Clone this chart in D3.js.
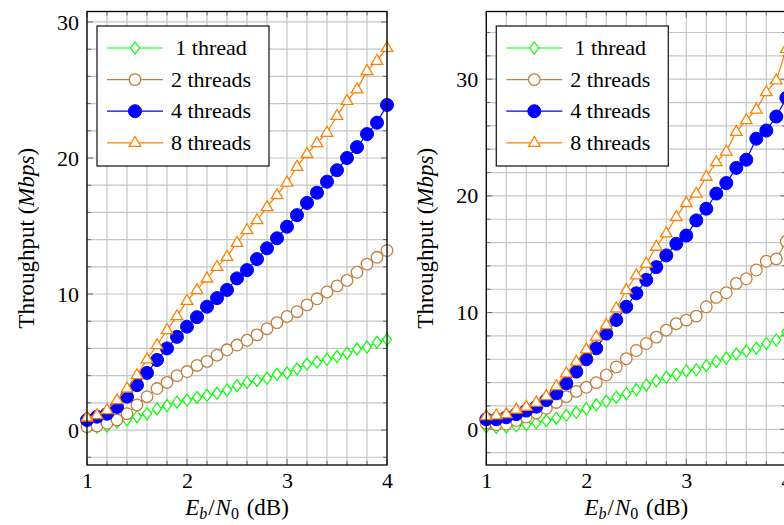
<!DOCTYPE html>
<html>
<head>
<meta charset="utf-8">
<script src="https://cdn.jsdelivr.net/npm/d3@7"></script>
<style>
  body { margin: 0; background: #fff; }
  svg text { font-family: "Liberation Serif", "DejaVu Serif", serif; fill: #000; }
</style>
</head>
<body>
<div id="chart"></div>
<script>
// Eb/N0 (dB) sample points
const ebn0 = [1.0, 1.1, 1.2, 1.3, 1.4, 1.5, 1.6, 1.7, 1.8, 1.9, 2.0,
              2.1, 2.2, 2.3, 2.4, 2.5, 2.6, 2.7, 2.8, 2.9, 3.0,
              3.1, 3.2, 3.3, 3.4, 3.5, 3.6, 3.7, 3.8, 3.9, 4.0];

const seriesNames = ["1 thread", "2 threads", "4 threads", "8 threads"];

// left plot, throughput in Mbps
const leftOne   = [0.2, 0.22, 0.3, 0.6, 0.75, 0.98, 1.2, 1.55, 1.8, 2.05, 2.2,
                   2.4, 2.55, 2.7, 2.95, 3.25, 3.5, 3.65, 3.8, 4.1, 4.2,
                   4.5, 4.85, 5.0, 5.2, 5.4, 5.65, 5.95, 6.1, 6.45, 6.65];
const leftTwo   = [0.25, 0.3, 0.5, 0.75, 1.2, 1.85, 2.45, 3.05, 3.5, 4.0, 4.3,
                   4.75, 5.05, 5.5, 5.9, 6.25, 6.6, 7.0, 7.45, 7.9, 8.35,
                   8.7, 9.2, 9.65, 10.15, 10.6, 11.0, 11.6, 12.2, 12.7, 13.2];
const leftFour  = [0.74, 0.98, 1.2, 1.7, 2.45, 3.3, 4.2, 5.15, 6.0, 6.85, 7.6,
                   8.3, 9.07, 9.7, 10.3, 11.15, 11.76, 12.57, 13.36, 14.1, 14.95,
                   15.8, 16.7, 17.45, 18.26, 19.1, 20.0, 20.8, 21.76, 22.6, 23.9];
const leftEight = [0.93, 1.1, 1.47, 2.2, 3.06, 4.04, 5.2, 6.25, 7.35, 8.38, 9.5,
                   10.3, 11.15, 12.0, 12.74, 13.77, 14.7, 15.44, 16.4, 17.28, 18.2,
                   19.36, 20.3, 21.1, 21.86, 23.1, 24.2, 25.05, 26.4, 27.15, 28.1];

// right plot
const rightOne   = [0.2, 0.15, 0.2, 0.3, 0.4, 0.55, 0.75, 0.95, 1.2, 1.45, 1.75,
                    2.1, 2.4, 2.75, 3.05, 3.4, 3.8, 4.15, 4.45, 4.7, 5.0,
                    5.1, 5.45, 5.8, 6.1, 6.45, 6.7, 6.95, 7.35, 7.65, 8.35];
const rightTwo   = [0.5, 0.4, 0.45, 0.75, 1.05, 1.4, 1.8, 2.3, 2.8, 3.25, 3.6,
                    4.0, 4.65, 5.35, 6.05, 6.75, 7.35, 7.9, 8.5, 9.05, 9.35,
                    9.7, 10.5, 11.3, 11.7, 12.5, 12.9, 13.65, 14.4, 14.6, 16.1];
const rightFour  = [0.86, 0.86, 1.03, 1.3, 1.6, 1.94, 2.5, 3.08, 3.94, 4.94, 6.0,
                    6.94, 8.2, 9.37, 10.5, 11.65, 12.8, 13.9, 14.9, 15.9, 16.6,
                    17.9, 18.9, 20.2, 21.1, 22.4, 23.1, 24.9, 25.6, 26.8, 28.4];
const rightEight = [1.14, 1.2, 1.3, 1.7, 1.94, 2.3, 2.85, 3.7, 4.8, 5.8, 6.85,
                    7.94, 8.94, 10.37, 11.94, 13.2, 14.2, 15.65, 16.8, 18.2, 19.4,
                    20.2, 21.65, 22.9, 23.8, 25.5, 26.5, 27.4, 28.9, 29.9, 32.6];

const xTicks = [1, 2, 3, 4];
const yTicks = [0, 10, 20, 30];

const colors = ["#00ff00", "#bf8040", "#0000ff", "#ff8000"];

const svg = d3.select("#chart").append("svg")
    .attr("width", 784)
    .attr("height", 525)
    .attr("font-family", "'Liberation Serif', 'DejaVu Serif', serif");

// marker shapes
function drawMarker(g, i) {
    if (i === 0) {
        g.append("path").attr("d", "M0,-6L4.5,0L0,6L-4.5,0Z")
            .attr("fill", "#fff").attr("stroke", colors[i]).attr("stroke-width", 1.2);
    } else if (i === 1) {
        g.append("circle").attr("r", 5.8)
            .attr("fill", "#fff").attr("stroke", colors[i]).attr("stroke-width", 1.3);
    } else if (i === 2) {
        g.append("circle").attr("r", 6.5)
            .attr("fill", colors[i]).attr("stroke", colors[i]).attr("stroke-width", 1);
    } else {
        g.append("path").attr("d", "M0,-6.3L5.8,3.6L-5.8,3.6Z")
            .attr("fill", "#fff").attr("stroke", colors[i]).attr("stroke-width", 1.3);
    }
}

function drawPanel(p) {
    const g = svg.append("g");

    const x = d3.scaleLinear().domain([1, 4]).range([p.left, p.left + 300]);
    const y = d3.scaleLinear().domain(p.yDomain).range([p.bottom, p.top]);

    g.append("rect")
        .attr("x", p.left).attr("y", p.top)
        .attr("width", 300).attr("height", p.bottom - p.top)
        .attr("fill", "#fff");

    // grid (minor every 0.2 / 2)
    const xMinor = x.ticks(15);
    const yMinor = d3.range(-2, p.yDomain[1], 2).filter(v => v > p.yDomain[0]);

    g.selectAll(".vgrid").data(xMinor).enter().append("line")
        .attr("x1", d => x(d)).attr("x2", d => x(d))
        .attr("y1", p.top).attr("y2", p.bottom)
        .attr("stroke", "#c6c6c6").attr("stroke-width", 1.2);

    g.selectAll(".hgrid").data(yMinor).enter().append("line")
        .attr("y1", d => y(d)).attr("y2", d => y(d))
        .attr("x1", p.left).attr("x2", p.left + 300)
        .attr("stroke", "#c6c6c6").attr("stroke-width", 1.2);

    // inner tick marks on all four sides
    const tickCol = "#6b6b6b";
    xMinor.forEach(d => {
        const len = xTicks.includes(Math.round(d * 10) / 10) ? 6 : 4;
        g.append("line").attr("x1", x(d)).attr("x2", x(d))
            .attr("y1", p.bottom).attr("y2", p.bottom - len)
            .attr("stroke", tickCol).attr("stroke-width", 1);
        g.append("line").attr("x1", x(d)).attr("x2", x(d))
            .attr("y1", p.top).attr("y2", p.top + len)
            .attr("stroke", tickCol).attr("stroke-width", 1);
    });
    yMinor.forEach(d => {
        const len = yTicks.includes(d) ? 6 : 4;
        g.append("line").attr("y1", y(d)).attr("y2", y(d))
            .attr("x1", p.left).attr("x2", p.left + len)
            .attr("stroke", tickCol).attr("stroke-width", 1);
        g.append("line").attr("y1", y(d)).attr("y2", y(d))
            .attr("x1", p.left + 300).attr("x2", p.left + 300 - len)
            .attr("stroke", tickCol).attr("stroke-width", 1);
    });

    // series
    const line = d3.line().x(d => x(d[0])).y(d => y(d[1]));
    p.series.forEach((vals, i) => {
        const pts = ebn0.map((e, k) => [e, vals[k]]);
        g.append("path")
            .datum(pts)
            .attr("d", line)
            .attr("fill", "none")
            .attr("stroke", colors[i])
            .attr("stroke-width", 1.2);
        pts.forEach(d => {
            const m = g.append("g").attr("transform", `translate(${x(d[0])},${y(d[1])})`);
            drawMarker(m, i);
        });
    });

    // frame
    g.append("rect")
        .attr("x", p.left).attr("y", p.top)
        .attr("width", 300).attr("height", p.bottom - p.top)
        .attr("fill", "none").attr("stroke", "#000").attr("stroke-width", 1.3);

    // tick labels
    const xAxis = g.append("g")
        .attr("transform", `translate(0,${p.bottom})`)
        .call(d3.axisBottom(x).tickValues(xTicks).tickFormat(d3.format("d"))
            .tickSize(0).tickPadding(7));
    xAxis.select(".domain").remove();
    xAxis.attr("font-family", null);
    xAxis.selectAll("text")
        .style("font-size", "22px")
        .attr("fill", "#000");

    const yAxis = g.append("g")
        .attr("transform", `translate(${p.left},0)`)
        .call(d3.axisLeft(y).tickValues(yTicks).tickFormat(d3.format("d"))
            .tickSize(0).tickPadding(8));
    yAxis.select(".domain").remove();
    yAxis.attr("font-family", null);
    yAxis.selectAll("text")
        .style("font-size", "22px")
        .attr("fill", "#000");

    // axis labels
    const xl = g.append("text")
        .attr("x", p.left + 150).attr("y", 515)
        .attr("text-anchor", "middle")
        .style("font-size", "23px");
    xl.append("tspan").style("font-style", "italic").text("E");
    xl.append("tspan").attr("dy", 4).style("font-size", "16px").style("font-style", "italic").text("b");
    xl.append("tspan").attr("dy", -4).attr("dx", 1).text("/");
    xl.append("tspan").attr("dx", 1).style("font-style", "italic").text("N");
    xl.append("tspan").attr("dy", 4).style("font-size", "16px").text("0");
    xl.append("tspan").attr("dy", -4).attr("dx", 2).text(" (dB)");

    const yl = g.append("text")
        .attr("transform", `translate(${p.left - 53},${(p.top + p.bottom) / 2}) rotate(-90)`)
        .attr("text-anchor", "middle")
        .style("font-size", "23px");
    yl.append("tspan").text("Throughput (");
    yl.append("tspan").style("font-style", "italic").text("Mbps");
    yl.append("tspan").text(")");

    // legend
    const lg = g.append("g").attr("transform", `translate(${p.left + 10},${p.top + 14.5})`);
    lg.append("rect")
        .attr("width", 172).attr("height", 140)
        .attr("fill", "#fff").attr("stroke", "#222").attr("stroke-width", 1.3);
    seriesNames.forEach((name, i) => {
        const row = lg.append("g").attr("transform", `translate(0,${22 + i * 31.6})`);
        row.append("line")
            .attr("x1", 10).attr("x2", 66)
            .attr("stroke", colors[i]).attr("stroke-width", 1.2);
        drawMarker(row.append("g").attr("transform", "translate(38,0)"), i);
        row.append("text")
            .attr("x", 114).attr("dy", "0.33em")
            .attr("text-anchor", "middle")
            .style("font-size", "22px")
            .text(name);
    });
}

drawPanel({left: 87, top: 11.5, bottom: 465, yDomain: [-2.57, 30.77],
           series: [leftOne, leftTwo, leftFour, leftEight]});
drawPanel({left: 486.3, top: 11.5, bottom: 465, yDomain: [-3.06, 35.8],
           series: [rightOne, rightTwo, rightFour, rightEight]});
</script>
</body>
</html>
